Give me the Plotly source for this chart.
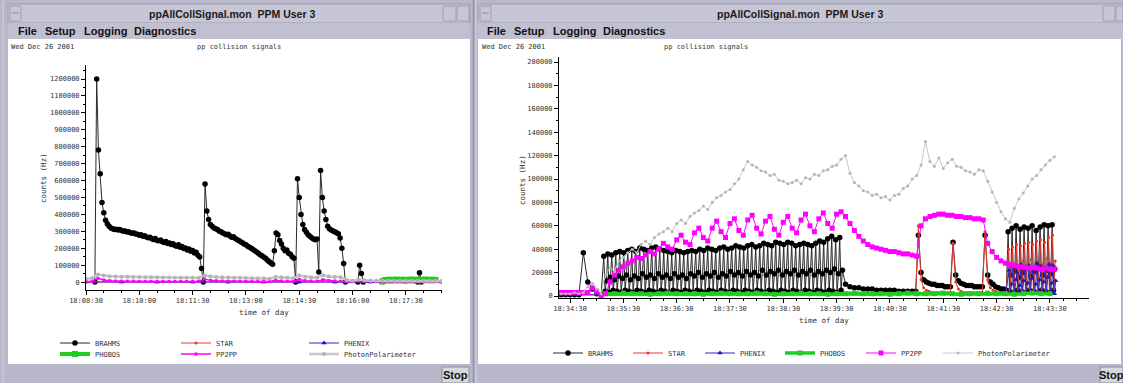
import plotly.graph_objects as go
import pandas as pd

W, H = 1123, 383
LEFT_T0 = pd.Timestamp("2001-12-26 18:08:30")
RIGHT_T0 = pd.Timestamp("2001-12-26 18:34:30")

SERIES = ["BRAHMS", "STAR", "PHENIX", "PHOBOS", "PP2PP", "PhotonPolarimeter"]
LEFT_TICK_LABELS = ["18:08:30", "18:10:00", "18:11:30", "18:13:00", "18:14:30", "18:16:00", "18:17:30"]
RIGHT_TICK_LABELS = ["18:34:30", "18:35:30", "18:36:30", "18:37:30", "18:38:30",
                     "18:39:30", "18:40:30", "18:41:30", "18:42:30", "18:43:30"]

# ---------------- left window: segments (start s after 18:08:30, step s, counts in kHz)
left_brahms = [
    (15, 3, [0, 1200, 780, 640, 470, 410, 365, 345, 330, 320, 315, 310,
             312, 308, 310, 304, 300, 302, 296, 298, 292, 288,
             290, 284, 282, 276, 279, 270, 273, 266, 262, 265,
             256, 252, 258, 246, 244, 249, 238, 234, 240, 228,
             231, 222, 226, 216, 212, 220, 206, 210, 198, 202,
             190, 195, 182, 186, 172, 176, 158, 148, 80, 0,
             580, 420, 370, 340, 330, 320, 315, 310, 300, 298,
             290, 285, 280, 283, 272, 265, 268, 258, 250, 245,
             238, 232, 225, 220, 212, 205, 200, 192, 185, 178,
             170, 162, 155, 148, 140, 130, 122, 112, 105,
             185, 290, 280, 245, 225, 200, 185, 190, 170, 165, 150, 140, 0,
             610, 500, 400, 340, 310, 295, 280, 270, 262, 255, 250, 255, 60,
             660, 500, 420, 370, 330, 315, 308, 302, 298, 292, 285, 260, 200, 110, 0]),
    (459, 3, [0, 100, 50, 0]),
    (560, 3, [0, 55, 0]),
]
left_star = [(0, 60, [0.5, 0.6, 0.5, 0.5, 0.6, 0.5, 0.5, 0.6, 0.5, 0.5, 0.5])]
left_phenix = [(0, 60, [0.3, 0.3, 0.4, 0.3, 0.3, 0.4, 0.3, 0.3, 0.4, 0.3, 0.3])]
left_phobos = [(500, 3, [3, 8, 12, 10, 14, 9, 13, 11, 15, 10, 12, 14, 9, 13, 11, 12,
                         15, 10, 13, 11, 14, 12, 10, 13, 15, 11, 12, 14, 10, 13, 12])]
left_pp2pp = [(0, 10, [3, 3, 22, 12, 8, 6, 5, 5, 5, 4, 4, 4, 4, 4, 3, 3, 3, 3, 3, 3,
                       18, 10, 7, 6, 5, 5, 4, 4, 4, 3, 3, 3, 10, 6, 5, 4, 15, 8, 6, 5,
                       14, 8, 6, 5, 3, 2, 8, 4, 2, 2, 2, 2, 2, 2, 2, 2, 2, 2, 2, 2, 2])]
left_photon = [(0, 10, [20, 22, 45, 38, 35, 33, 32, 31, 30, 30, 29, 28, 28, 27, 27, 26, 26, 25, 25, 24,
                        40, 33, 30, 28, 27, 26, 25, 24, 23, 22, 22, 20, 30, 28, 26, 22, 38, 32, 29, 27,
                        40, 33, 30, 28, 12, 8, 15, 10, 8, 7, 7, 6, 6, 6, 6, 6, 6, 6, 6, 6, 6])]

# ---------------- right window: segments (start s after 18:34:30, step s, counts in kHz)
right_brahms = [
    (-10, 5, [1, 1, 1, 1, 1, 37, 12, 6, 2, 1]),
    (38, 1.5, [34, 4, 13, 36, 3, 16, 35, 5, 14, 37, 4, 17, 38, 3, 15, 37, 5, 18, 39, 4, 14, 40, 3, 17,
               38, 5, 15, 41, 4, 19, 40, 3, 16, 39, 5, 18, 41, 4, 15, 42, 3, 19, 40, 5, 16, 39, 4, 18,
               38, 3, 15, 37, 5, 19, 39, 4, 16, 38, 3, 18, 37, 5, 15, 38, 4, 19, 39, 3, 17, 38, 5, 20,
               40, 4, 16, 39, 3, 19, 41, 5, 17, 40, 4, 20, 39, 3, 16, 41, 5, 19, 42, 4, 17, 40, 3, 21,
               41, 5, 18, 43, 4, 20, 42, 3, 17, 41, 5, 21, 43, 4, 18, 44, 3, 20, 42, 5, 17, 43, 4, 22,
               45, 3, 18, 44, 5, 21, 43, 4, 19, 46, 3, 22, 45, 5, 18, 44, 4, 21, 46, 3, 19, 45, 5, 22,
               43, 4, 18, 44, 3, 21, 45, 5, 19, 44, 4, 22, 43, 3, 18, 45, 5, 21, 47, 4, 19, 46, 3, 22,
               49, 5, 20, 51, 4, 23, 48, 3, 19, 50, 5, 22]),
    (310, 5, [10, 8, 7, 7, 6, 6, 6, 5, 5, 5, 5, 5, 4, 4, 4, 4]),
    (389, 3, [4, 52, 20, 14, 12, 11, 10, 10, 9, 9, 9, 8, 8, 8, 46, 18, 13, 11, 10, 9, 9, 9, 8, 8, 8, 8,
              52, 18, 12, 10, 8, 7, 6, 6, 5]),
    (493, 1.5, [55, 4, 18, 58, 3, 22, 60, 5, 16, 57, 4, 20, 59, 3, 24, 58, 5, 17,
                60, 4, 21, 56, 3, 25, 59, 5, 18, 61, 4, 22, 60, 3, 19, 61, 5, 23]),
]
right_star = [
    (-10, 50, [1, 1, 1, 1, 1, 1, 1, 1]),
    (389, 3, [2, 60, 14, 7, 5, 4, 3, 3, 3, 3, 3, 3, 3, 3, 45, 12, 6, 4, 3, 3, 3, 3, 3, 3, 3, 3,
              55, 14, 7, 5, 4, 3, 3, 3, 3]),
    (493.5, 1.5, [40, 5, 24, 42, 4, 28, 44, 6, 22, 43, 5, 30, 45, 4, 26, 46, 6, 31,
                  44, 5, 25, 47, 4, 29, 48, 6, 27, 46, 5, 32, 50, 4, 28, 52, 6, 30]),
]
right_phenix = [
    (-10, 50, [1, 1, 1, 1, 1, 1, 1, 1, 1, 1, 1]),
    (494, 1.5, [22, 3, 10, 25, 2, 14, 20, 3, 9, 27, 2, 13, 24, 3, 11, 26, 2, 15,
                21, 3, 10, 28, 2, 14, 25, 3, 12, 23, 2, 16, 27, 3, 11, 26, 2, 13]),
]
right_phobos = [(40, 10, [2, 2, 2.5, 2, 2, 1.5, 2, 2.5, 2, 2, 2, 1.5, 2, 2.5, 2, 2, 2, 2.5, 2, 1.5,
                          2, 2, 2.5, 2, 2, 1.5, 2, 2, 2.5, 2, 2, 2, 1.5, 2, 2.5, 2, 2, 2, 2.5, 2,
                          1.5, 2, 2, 2.5, 2, 2, 1.5, 2, 2.5, 2, 2])]
right_pp2pp = [(-10, 5, [3, 3, 3, 3, 3, 3, 3, 7, 4, 0,
                         2, 12, 18, 22, 25, 28, 30, 33, 32, 35,
                         38, 36, 40, 45, 42, 40, 48, 52, 46, 44,
                         54, 58, 50, 47, 58, 64, 55, 50, 62, 66,
                         56, 52, 65, 69, 58, 53, 64, 68, 57, 52,
                         63, 68, 58, 54, 65, 70, 60, 55, 66, 71,
                         62, 58, 70, 72, 68, 62, 56, 51, 47, 44,
                         42, 41, 40, 39, 38, 38, 37, 36, 36, 35,
                         34, 60, 66, 68, 69, 70, 70, 69, 69, 68,
                         68, 67, 67, 66, 66, 65, 45, 38, 33, 30,
                         28, 27, 26, 25, 25, 24, 24, 24, 23, 24,
                         23, 23])]
right_photon = [(-10, 5, [2, 2, 2, 3, 2, 3, 8, 11, 6, 2,
                          18, 24, 21, 30, 33, 37, 40, 37, 44, 47,
                          44, 50, 53, 55, 58, 55, 62, 65, 62, 68,
                          71, 73, 77, 74, 80, 84, 86, 89, 91, 96,
                          100, 108, 115, 112, 110, 107, 106, 103, 104, 99,
                          98, 96, 97, 99, 96, 101, 100, 104, 103, 107,
                          108, 111, 112, 117, 120, 105, 97, 94, 90, 89,
                          86, 87, 84, 85, 82, 86, 87, 92, 94, 100,
                          103, 112, 132, 115, 111, 118, 109, 114, 117, 111,
                          110, 107, 106, 104, 108, 107, 98, 89, 80, 72,
                          66, 63, 75, 83, 88, 94, 100, 103, 108, 112,
                          116, 119])]

LEFT_DATA = [left_brahms, left_star, left_phenix, left_phobos, left_pp2pp, left_photon]
RIGHT_DATA = [right_brahms, right_star, right_phenix, right_phobos, right_pp2pp, right_photon]

# ---------------- styles
STYLE = {
    "BRAHMS": dict(lc="#2a2a2a", lw=1, mc="#000000", ms=5.5, sym="circle"),
    "STAR": dict(lc="#e23a30", lw=1, mc="#e23a30", ms=3, sym="circle"),
    "PHENIX": dict(lc="#2a2ad0", lw=1, mc="#1a1ab8", ms=5, sym="triangle-up"),
    "PHOBOS": dict(lc="#22cc22", lw=3.5, mc="#22cc22", ms=5, sym="square"),
    "PP2PP": dict(lc="#ff00ff", lw=1, mc="#ff00ff", ms=5, sym="square"),
    "PhotonPolarimeter": dict(lc="#c8c8c8", lw=1, mc="#b4b4b4", ms=3, sym="circle"),
}
LEFT_OVERRIDE = {"PhotonPolarimeter": dict(lw=2.5, ms=4), "PP2PP": dict(ms=3, lw=1.5),
                 "PHOBOS": dict(ms=6, lw=4)}

# legend anchor positions (px): line start x, centre y
LEFT_LEG = {"BRAHMS": (60, 343), "PHOBOS": (60, 354), "STAR": (181, 343),
            "PP2PP": (181, 354), "PHENIX": (309, 343), "PhotonPolarimeter": (309, 354)}
RIGHT_LEG = {"BRAHMS": (553, 353), "STAR": (633, 353), "PHENIX": (705, 353),
             "PHOBOS": (785, 353), "PP2PP": (866, 353), "PhotonPolarimeter": (943, 353)}

MONO = "DejaVu Sans Mono"
SANS = "Liberation Sans"


def px(x):
    return x / W


def py(y):
    return 1 - y / H


def build(t0, segments):
    xs, ys = [], []
    for start, step, vals in segments:
        for i, v in enumerate(vals):
            xs.append(t0 + pd.Timedelta(seconds=start + i * step))
            ys.append(v * 1000)
    return xs, ys


fig = go.Figure()
layout_legends = {}
leg_idx = 1
for panel, (t0, data, xa, ya, legpos) in enumerate([
        (LEFT_T0, LEFT_DATA, "x", "y", LEFT_LEG),
        (RIGHT_T0, RIGHT_DATA, "x2", "y2", RIGHT_LEG)]):
    for name, segs in zip(SERIES, data):
        st = dict(STYLE[name])
        if panel == 0 and name in LEFT_OVERRIDE:
            st.update(LEFT_OVERRIDE[name])
        xs, ys = build(t0, segs)
        lname = "legend" if leg_idx == 1 else f"legend{leg_idx}"
        fig.add_trace(go.Scatter(
            x=xs, y=ys, mode="lines+markers", name=name, xaxis=xa, yaxis=ya,
            line=dict(color=st["lc"], width=st["lw"]),
            marker=dict(color=st["mc"], size=st["ms"], symbol=st["sym"], line=dict(width=0)),
            legend=lname, showlegend=True, hoverinfo="skip"))
        lx, ly = legpos[name]
        layout_legends[lname] = dict(
            x=px(lx - 5), y=py(ly), xanchor="left", yanchor="middle",
            bgcolor="rgba(0,0,0,0)", borderwidth=0, itemwidth=30,
            font=dict(family=MONO, size=7, color="#333333"))
        leg_idx += 1

# ---------------- window chrome
CHROME = "#b8b8ca"
TITLEBAR = "#c6c6d4"
MENUBAR = "#c0c0d0"
shapes = []


def rect(x0, y0, x1, y1, fill, line=None, lw=0):
    shapes.append(dict(type="rect", xref="paper", yref="paper", x0=px(x0), x1=px(x1),
                       y0=py(y1), y1=py(y0), fillcolor=fill, layer="below",
                       line=dict(width=lw, color=line or fill)))


def hline(x0, x1, y, color, w=1):
    shapes.append(dict(type="line", xref="paper", yref="paper", x0=px(x0), x1=px(x1),
                       y0=py(y), y1=py(y), line=dict(color=color, width=w), layer="below"))


def vline(x, y0, y1, color, w=1):
    shapes.append(dict(type="line", xref="paper", yref="paper", x0=px(x), x1=px(x),
                       y0=py(y0), y1=py(y1), line=dict(color=color, width=w), layer="below"))


for (a, b) in [(8, 470), (478, 1123)]:
    rect(a, 4, b, 23, TITLEBAR, "#9c9cb0", 1)
    rect(a, 23, b, 39, MENUBAR)
    rect(a, 39, b - (2 if b > 1000 else 0), 364, "#ffffff")
rect(10, 6, 21, 21, TITLEBAR, "#a0a0b4", 1)
hline(12, 19, 13, "#8a8a9a")
rect(443, 6, 456, 21, TITLEBAR, "#a0a0b4", 1)
rect(457, 6, 469, 21, TITLEBAR, "#a0a0b4", 1)
rect(480, 6, 491, 21, TITLEBAR, "#a0a0b4", 1)
hline(482, 489, 13, "#8a8a9a")
rect(1103, 6, 1115, 21, TITLEBAR, "#a0a0b4", 1)
rect(1116, 6, 1123, 21, TITLEBAR, "#a0a0b4", 1)
vline(3, 0, 383, "#d0d0dc", 1)
vline(473.5, 0, 383, "#9090a4", 1.5)
vline(476, 0, 383, "#d2d2de", 1)
rect(442, 367, 469, 383, "#d8d8dc", "#8c8c9c", 1)
rect(1100, 367, 1123, 383, "#d8d8dc", "#8c8c9c", 1)

# ---------------- texts
ann = []


def text(x, y, s, size, family=MONO, color="#303030", xanchor="left", bold=False, angle=0):
    ann.append(dict(x=px(x), y=py(y), xref="paper", yref="paper", text=f"<b>{s}</b>" if bold else s,
                    showarrow=False, xanchor=xanchor, yanchor="middle", textangle=angle,
                    font=dict(family=family, size=size, color=color)))


text(232, 14, "ppAllCollSignal.mon  PPM User 3", 10.5, SANS, "#1a1a1a", "center", True)
text(800, 14, "ppAllCollSignal.mon  PPM User 3", 10.5, SANS, "#1a1a1a", "center", True)
for dx in (0, 469):
    for x, s in [(16, "File"), (43, "Setup"), (82, "Logging"), (132, "Diagnostics")]:
        text(x + dx, 31, s, 11, SANS, "#111111", "left", True)
text(9, 47, "Wed Dec 26 2001", 7)
text(195, 47, "pp collision signals", 7)
text(480, 47, "Wed Dec 26 2001", 7)
text(662, 47, "pp collision signals", 7)
text(43, 178, "counts (Hz)", 7.5, angle=-90, xanchor="center")
text(522, 180, "counts (Hz)", 7.5, angle=-90, xanchor="center")
text(264, 312, "time of day", 7.5, xanchor="center")
text(824, 320, "time of day", 7.5, xanchor="center")
text(455.5, 375, "Stop", 11, SANS, "#111111", "center", True)
text(1111.5, 375, "Stop", 11, SANS, "#111111", "center", True)

# ---------------- axes
tickfont = dict(family=MONO, size=7, color="#333333")
common = dict(showline=True, linecolor="#000000", linewidth=1, ticks="outside", ticklen=4,
              tickcolor="#000000", tickwidth=1, showgrid=False, zeroline=False,
              tickfont=tickfont, automargin=False, fixedrange=True)

fig.update_layout(
    width=W, height=H, margin=dict(l=0, r=0, t=0, b=0),
    paper_bgcolor=CHROME, plot_bgcolor="rgba(0,0,0,0)",
    showlegend=True, hovermode=False, shapes=shapes, annotations=ann,
    xaxis=dict(domain=[px(86), px(442)], anchor="y", type="date",
               range=[LEFT_T0, LEFT_T0 + pd.Timedelta(seconds=601)],
               tick0=LEFT_T0, dtick=90000, tickformat="%H:%M:%S",
               minor=dict(dtick=30000, ticks="outside", ticklen=2, tickcolor="#000000"), **common),
    yaxis=dict(domain=[py(290), py(65)], anchor="x", range=[-47000, 1283000],
               tick0=0, dtick=100000, tickformat="d",
               minor=dict(dtick=50000, ticks="outside", ticklen=2, tickcolor="#000000"), **common),
    xaxis2=dict(domain=[px(559), px(1089)], anchor="y2", type="date",
                range=[RIGHT_T0 - pd.Timedelta(seconds=12.4), RIGHT_T0 + pd.Timedelta(seconds=584)],
                tick0=RIGHT_T0, dtick=60000, tickformat="%H:%M:%S",
                minor=dict(dtick=15000, ticks="outside", ticklen=2, tickcolor="#000000"), **common),
    yaxis2=dict(domain=[py(298), py(57)], anchor="x2", range=[-1700, 204300],
                tick0=0, dtick=20000, tickformat="d",
                minor=dict(dtick=10000, ticks="outside", ticklen=2, tickcolor="#000000"), **common),
    **layout_legends,
)

fig.write_html(
    "out.html",
    config={"displayModeBar": False},
    post_script="document.body.style.margin='0';document.body.style.padding='0';"
                "document.body.style.overflow='hidden';",
)
